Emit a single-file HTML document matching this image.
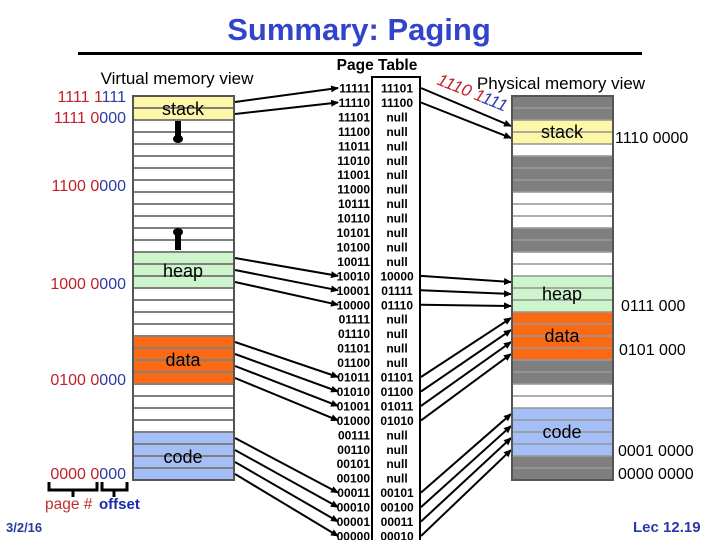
<!DOCTYPE html>
<html><head><meta charset="utf-8"><style>
html,body{margin:0;padding:0;background:#fff;}
svg{display:block;font-family:"Liberation Sans",Arial,sans-serif;}
</style></head><body>
<svg width="720" height="540" viewBox="0 0 720 540" xmlns="http://www.w3.org/2000/svg">
<defs>
<marker id="ah" markerWidth="8" markerHeight="8" refX="7" refY="4" orient="auto" markerUnits="userSpaceOnUse">
<path d="M0,0.5 L8,4 L0,7.5 z" fill="#000"/></marker>
</defs>
<text x="359" y="40" text-anchor="middle" font-size="31" font-weight="bold" fill="#3344cc">Summary: Paging</text>
<rect x="78" y="52" width="564" height="3" fill="#000"/>

<!-- Virtual memory -->
<text x="177" y="84" text-anchor="middle" font-size="17">Virtual memory view</text>
<rect x="133" y="96" width="101" height="384" fill="#fff"/>
<rect x="133" y="96" width="101" height="24" fill="#fff7a8"/>
<rect x="133" y="252" width="101" height="36" fill="#ccf5cc"/>
<rect x="133" y="336" width="101" height="48" fill="#fb6a12"/>
<rect x="133" y="432" width="101" height="48" fill="#a4bef7"/>
<g stroke="#808080" stroke-width="2">
<line x1="133" y1="108" x2="234" y2="108"/><line x1="133" y1="120" x2="234" y2="120"/><line x1="133" y1="132" x2="234" y2="132"/><line x1="133" y1="144" x2="234" y2="144"/><line x1="133" y1="156" x2="234" y2="156"/><line x1="133" y1="168" x2="234" y2="168"/><line x1="133" y1="180" x2="234" y2="180"/><line x1="133" y1="192" x2="234" y2="192"/><line x1="133" y1="204" x2="234" y2="204"/><line x1="133" y1="216" x2="234" y2="216"/><line x1="133" y1="228" x2="234" y2="228"/><line x1="133" y1="240" x2="234" y2="240"/><line x1="133" y1="252" x2="234" y2="252"/><line x1="133" y1="264" x2="234" y2="264"/><line x1="133" y1="276" x2="234" y2="276"/><line x1="133" y1="288" x2="234" y2="288"/><line x1="133" y1="300" x2="234" y2="300"/><line x1="133" y1="312" x2="234" y2="312"/><line x1="133" y1="324" x2="234" y2="324"/><line x1="133" y1="336" x2="234" y2="336"/><line x1="133" y1="348" x2="234" y2="348"/><line x1="133" y1="360" x2="234" y2="360"/><line x1="133" y1="372" x2="234" y2="372"/><line x1="133" y1="384" x2="234" y2="384"/><line x1="133" y1="396" x2="234" y2="396"/><line x1="133" y1="408" x2="234" y2="408"/><line x1="133" y1="420" x2="234" y2="420"/><line x1="133" y1="432" x2="234" y2="432"/><line x1="133" y1="444" x2="234" y2="444"/><line x1="133" y1="456" x2="234" y2="456"/><line x1="133" y1="468" x2="234" y2="468"/>
</g>
<rect x="133" y="96" width="101" height="384" fill="none" stroke="#555" stroke-width="2"/>
<text x="183" y="115" text-anchor="middle" font-size="18">stack</text>
<text x="183" y="277" text-anchor="middle" font-size="18">heap</text>
<text x="183" y="366" text-anchor="middle" font-size="18">data</text>
<text x="183" y="463" text-anchor="middle" font-size="18">code</text>
<rect x="175" y="121" width="6" height="16" fill="#000"/><ellipse cx="178" cy="139" rx="5" ry="4" fill="#000"/>
<rect x="175" y="234" width="6" height="16" fill="#000"/><ellipse cx="178" cy="232" rx="5" ry="4" fill="#000"/>

<g font-size="16" text-anchor="end">
<text x="126" y="102"><tspan fill="#c0202a">1111 1</tspan><tspan fill="#2a3aa8">111</tspan></text>
<text x="126" y="123"><tspan fill="#c0202a">1111 0</tspan><tspan fill="#2a3aa8">000</tspan></text>
<text x="126" y="191"><tspan fill="#c0202a">1100 0</tspan><tspan fill="#2a3aa8">000</tspan></text>
<text x="126" y="289"><tspan fill="#c0202a">1000 0</tspan><tspan fill="#2a3aa8">000</tspan></text>
<text x="126" y="385"><tspan fill="#c0202a">0100 0</tspan><tspan fill="#2a3aa8">000</tspan></text>
<text x="126" y="479"><tspan fill="#c0202a">0000 0</tspan><tspan fill="#2a3aa8">000</tspan></text>
</g>
<path d="M49,482 V490 H97 V482 M73,490 V497" fill="none" stroke="#000" stroke-width="3"/>
<path d="M102,482 V490 H127 V482 M114,490 V497" fill="none" stroke="#000" stroke-width="3"/>
<text x="45" y="509" font-size="15.5" fill="#c03030">page #</text>
<text x="99" y="509" font-size="15" font-weight="bold" fill="#1a2aa8">offset</text>
<text x="6" y="532" font-size="13" font-weight="bold" fill="#2a3a9a">3/2/16</text>
<text x="633" y="532" font-size="15" font-weight="bold" fill="#2a3aa8">Lec 12.19</text>

<!-- Page table -->
<text x="377" y="70" text-anchor="middle" font-size="15.5" font-weight="bold">Page Table</text>
<path d="M372,541 V77 H420 V541" fill="none" stroke="#000" stroke-width="2"/>
<g font-size="12" font-weight="bold" text-anchor="end">
<text x="370" y="92.5">11111</text><text x="370" y="107">11110</text><text x="370" y="121.4">11101</text><text x="370" y="135.9">11100</text><text x="370" y="150.3">11011</text><text x="370" y="164.8">11010</text><text x="370" y="179.2">11001</text><text x="370" y="193.7">11000</text><text x="370" y="208.1">10111</text><text x="370" y="222.6">10110</text><text x="370" y="237">10101</text><text x="370" y="251.5">10100</text><text x="370" y="265.9">10011</text><text x="370" y="280.4">10010</text><text x="370" y="294.8">10001</text><text x="370" y="309.3">10000</text><text x="370" y="323.7">01111</text><text x="370" y="338.2">01110</text><text x="370" y="352.6">01101</text><text x="370" y="367.1">01100</text><text x="370" y="381.5">01011</text><text x="370" y="396">01010</text><text x="370" y="410.4">01001</text><text x="370" y="424.9">01000</text><text x="370" y="439.3">00111</text><text x="370" y="453.8">00110</text><text x="370" y="468.2">00101</text><text x="370" y="482.7">00100</text><text x="370" y="497.1">00011</text><text x="370" y="511.6">00010</text><text x="370" y="526">00001</text><text x="370" y="540.5">00000</text>
</g>
<g font-size="12" font-weight="bold" text-anchor="middle">
<text x="397" y="92.5">11101</text><text x="397" y="107">11100</text><text x="397" y="121.4">null</text><text x="397" y="135.9">null</text><text x="397" y="150.3">null</text><text x="397" y="164.8">null</text><text x="397" y="179.2">null</text><text x="397" y="193.7">null</text><text x="397" y="208.1">null</text><text x="397" y="222.6">null</text><text x="397" y="237">null</text><text x="397" y="251.5">null</text><text x="397" y="265.9">null</text><text x="397" y="280.4">10000</text><text x="397" y="294.8">01111</text><text x="397" y="309.3">01110</text><text x="397" y="323.7">null</text><text x="397" y="338.2">null</text><text x="397" y="352.6">null</text><text x="397" y="367.1">null</text><text x="397" y="381.5">01101</text><text x="397" y="396">01100</text><text x="397" y="410.4">01011</text><text x="397" y="424.9">01010</text><text x="397" y="439.3">null</text><text x="397" y="453.8">null</text><text x="397" y="468.2">null</text><text x="397" y="482.7">null</text><text x="397" y="497.1">00101</text><text x="397" y="511.6">00100</text><text x="397" y="526">00011</text><text x="397" y="540.5">00010</text>
</g>

<g stroke="#000" stroke-width="2" marker-end="url(#ah)">
<line x1="235" y1="102" x2="338" y2="88"/>
<line x1="235" y1="114" x2="338" y2="102.5"/>
<line x1="235" y1="258" x2="338" y2="275.9"/>
<line x1="235" y1="270" x2="338" y2="290.3"/>
<line x1="235" y1="282" x2="338" y2="304.8"/>
<line x1="235" y1="342" x2="338" y2="377"/>
<line x1="235" y1="354" x2="338" y2="391.5"/>
<line x1="235" y1="366" x2="338" y2="405.9"/>
<line x1="235" y1="378" x2="338" y2="420.4"/>
<line x1="235" y1="438" x2="338" y2="492.6"/>
<line x1="235" y1="450" x2="338" y2="507.1"/>
<line x1="235" y1="462" x2="338" y2="521.5"/>
<line x1="235" y1="474" x2="338" y2="536"/>
</g>
<g stroke="#000" stroke-width="2" marker-end="url(#ah)">
<line x1="421" y1="88" x2="511" y2="126"/>
<line x1="421" y1="102.5" x2="511" y2="138"/>
<line x1="421" y1="275.9" x2="511" y2="282"/>
<line x1="421" y1="290.3" x2="511" y2="294"/>
<line x1="421" y1="304.8" x2="511" y2="306"/>
<line x1="421" y1="377" x2="511" y2="318"/>
<line x1="421" y1="391.5" x2="511" y2="330"/>
<line x1="421" y1="405.9" x2="511" y2="342"/>
<line x1="421" y1="420.4" x2="511" y2="354"/>
<line x1="421" y1="492.6" x2="511" y2="414"/>
<line x1="421" y1="507.1" x2="511" y2="426"/>
<line x1="421" y1="521.5" x2="511" y2="438"/>
<line x1="421" y1="536" x2="511" y2="450"/>
</g>
<text transform="translate(436,84) rotate(22)" font-size="17" font-style="italic"><tspan fill="#c0202a">1110 1</tspan><tspan fill="#2a3aa8">111</tspan></text>

<!-- Physical memory -->
<text x="561" y="89" text-anchor="middle" font-size="17">Physical memory view</text>
<rect x="512" y="96" width="101" height="384" fill="#fff"/>
<rect x="512" y="96" width="101" height="24" fill="#7f7f7f"/>
<rect x="512" y="120" width="101" height="24" fill="#fff7a8"/>
<rect x="512" y="156" width="101" height="36" fill="#7f7f7f"/>
<rect x="512" y="228" width="101" height="24" fill="#7f7f7f"/>
<rect x="512" y="276" width="101" height="36" fill="#ccf5cc"/>
<rect x="512" y="312" width="101" height="48" fill="#fb6a12"/>
<rect x="512" y="360" width="101" height="24" fill="#7f7f7f"/>
<rect x="512" y="408" width="101" height="48" fill="#a4bef7"/>
<rect x="512" y="456" width="101" height="24" fill="#7f7f7f"/>
<g stroke="#999" stroke-width="2" opacity="0.8">
<line x1="512" y1="108" x2="613" y2="108"/><line x1="512" y1="120" x2="613" y2="120"/><line x1="512" y1="132" x2="613" y2="132"/><line x1="512" y1="144" x2="613" y2="144"/><line x1="512" y1="156" x2="613" y2="156"/><line x1="512" y1="168" x2="613" y2="168"/><line x1="512" y1="180" x2="613" y2="180"/><line x1="512" y1="192" x2="613" y2="192"/><line x1="512" y1="204" x2="613" y2="204"/><line x1="512" y1="216" x2="613" y2="216"/><line x1="512" y1="228" x2="613" y2="228"/><line x1="512" y1="240" x2="613" y2="240"/><line x1="512" y1="252" x2="613" y2="252"/><line x1="512" y1="264" x2="613" y2="264"/><line x1="512" y1="276" x2="613" y2="276"/><line x1="512" y1="288" x2="613" y2="288"/><line x1="512" y1="300" x2="613" y2="300"/><line x1="512" y1="312" x2="613" y2="312"/><line x1="512" y1="324" x2="613" y2="324"/><line x1="512" y1="336" x2="613" y2="336"/><line x1="512" y1="348" x2="613" y2="348"/><line x1="512" y1="360" x2="613" y2="360"/><line x1="512" y1="372" x2="613" y2="372"/><line x1="512" y1="384" x2="613" y2="384"/><line x1="512" y1="396" x2="613" y2="396"/><line x1="512" y1="408" x2="613" y2="408"/><line x1="512" y1="420" x2="613" y2="420"/><line x1="512" y1="432" x2="613" y2="432"/><line x1="512" y1="444" x2="613" y2="444"/><line x1="512" y1="456" x2="613" y2="456"/><line x1="512" y1="468" x2="613" y2="468"/>
</g>
<rect x="512" y="96" width="101" height="384" fill="none" stroke="#555" stroke-width="2"/>
<text x="562" y="138" text-anchor="middle" font-size="18">stack</text>
<text x="562" y="300" text-anchor="middle" font-size="18">heap</text>
<text x="562" y="342" text-anchor="middle" font-size="18">data</text>
<text x="562" y="438" text-anchor="middle" font-size="18">code</text>
<g font-size="16">
<text x="615" y="143">1110 0000</text>
<text x="621" y="311">0111 000</text>
<text x="619" y="355">0101 000</text>
<text x="618" y="456">0001 0000</text>
<text x="618" y="479">0000 0000</text>
</g>
</svg>
</body></html>
